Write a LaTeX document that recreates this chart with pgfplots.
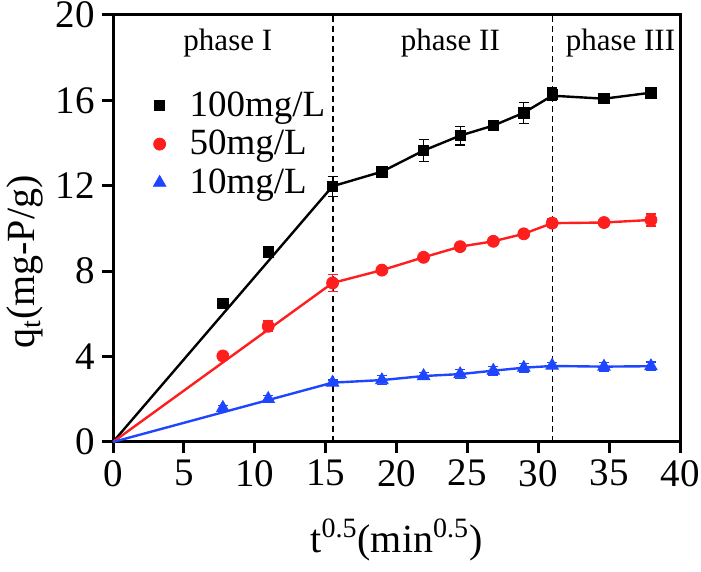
\documentclass[border=0pt]{standalone}
\usepackage{fontspec}
\setmainfont{Liberation Serif}
\usepackage{pgfplots}
\usepackage{pgfplotstable}
\pgfplotsset{compat=1.18}
\definecolor{sred}{HTML}{FF1E1E}
\definecolor{sblue}{HTML}{1E46FF}

% x  q_t  err
\pgfplotstableread{
x y e
7.75 6.50 0.10
10.95 8.90 0.12
15.49 11.98 0.47
18.97 12.66 0.12
21.91 13.65 0.52
24.49 14.35 0.44
26.83 14.82 0.12
28.98 15.42 0.50
30.98 16.28 0.30
34.64 16.08 0.12
37.95 16.36 0.12
}\hundred
\pgfplotstableread{
x y e
7.75 4.03 0.10
10.95 5.42 0.25
15.49 7.45 0.40
18.97 8.05 0.12
21.91 8.65 0.10
24.49 9.15 0.10
26.83 9.40 0.10
28.98 9.75 0.10
30.98 10.25 0.22
34.64 10.28 0.10
37.95 10.40 0.28
}\fifty
\pgfplotstableread{
x y e
7.75 1.60 0.10
10.95 2.02 0.15
15.49 2.78 0.12
18.97 2.90 0.20
21.91 3.09 0.15
24.49 3.18 0.20
26.83 3.34 0.20
28.98 3.48 0.20
30.98 3.58 0.15
34.64 3.53 0.20
37.95 3.55 0.20
}\ten

\begin{document}
\begin{tikzpicture}
\path[use as bounding box] (-56.5pt,-65pt) rectangle (294pt,221pt);
\begin{axis}[
  at={(0,0)}, anchor=south west,
  scale only axis, width=283.5pt, height=213.5pt,
  xmin=0, xmax=40, ymin=0, ymax=20,
  xtick={0,5,...,40}, ytick={0,4,...,20},
  xticklabels={\mbox{0},\mbox{5},\mbox{10},\mbox{15},\mbox{20},\mbox{25},\mbox{30},\mbox{35},\mbox{40}},
  yticklabels={\mbox{0},\mbox{4},\mbox{8},\mbox{12},\mbox{16},\mbox{20}},
  xtick pos=left, ytick pos=left, tick align=outside,
  major tick length=5.5pt,
  axis line style={line width=1.5pt},
  every tick/.style={black, line width=1.5pt},
  tick label style={font=\fontsize{19.5}{19.5}\selectfont},
  clip=false,
  legend style={at={(rel axis cs:0.06,0.84)}, anchor=north west,
    draw=none, fill=none, font=\fontsize{18.5}{20}\selectfont,
    row sep=1.5pt, cells={anchor=west}},
  leg/.style={legend image code/.code={\draw[##1] plot coordinates {(0cm,0cm)}; \path (0.45cm,0cm);}},
  error bars/error bar style={line width=0.6pt},
  error bars/error mark options={rotate=90, mark size=2.5pt, line width=0.6pt},
]
% phase boundaries
\addplot[black, line width=0.9pt, dash pattern=on 3pt off 2pt, forget plot] coordinates {(15.5,0) (15.5,20)};
\addplot[black, line width=0.9pt, dash pattern=on 3pt off 2pt, forget plot] coordinates {(31,0) (31,20)};
% fitted lines
\addplot[black, line width=1.2pt, forget plot] coordinates {(0,0) (15.49,11.98) (18.97,12.66) (21.91,13.65) (24.49,14.35) (26.83,14.82) (28.98,15.42) (30.98,16.22) (34.64,16.08) (37.95,16.36)};
\addplot[sred, line width=1.2pt, forget plot] coordinates {(0,0) (15.49,7.45) (18.97,8.05) (21.91,8.65) (24.49,9.15) (26.83,9.40) (28.98,9.75) (30.98,10.25) (34.64,10.28) (37.95,10.40)};
\addplot[sblue, line width=1.2pt, forget plot] coordinates {(0,0) (15.49,2.78) (18.97,2.90) (21.91,3.09) (24.49,3.18) (26.83,3.34) (28.98,3.48) (30.98,3.56) (34.64,3.53) (37.95,3.55)};
% measured points
\addplot[only marks, black, mark=square*, mark size=2.6pt, leg,
  error bars/.cd, y dir=both, y explicit] table[x=x, y=y, y error=e] {\hundred};
\addlegendentry{100mg/L}
\addplot[only marks, sred, mark=*, mark size=3pt, leg,
  error bars/.cd, y dir=both, y explicit] table[x=x, y=y, y error=e] {\fifty};
\addlegendentry{50mg/L}
\addplot[only marks, sblue, mark=triangle*, mark size=3.6pt, leg,
  error bars/.cd, y dir=both, y explicit] table[x=x, y=y, y error=e] {\ten};
\addlegendentry{10mg/L}
% phase labels
\node[font=\fontsize{15.5}{17}\selectfont] at (axis cs:8.1,18.7) {phase I};
\node[font=\fontsize{15.5}{17}\selectfont] at (axis cs:23.8,18.7) {phase II};
\node[font=\fontsize{15.5}{17}\selectfont] at (axis cs:35.8,18.7) {phase III};
\end{axis}
\node[font=\fontsize{20}{22}\selectfont] at (141.75pt,-49pt) {t\textsuperscript{0.5}(min\textsuperscript{0.5})};
\node[font=\fontsize{20}{22}\selectfont, rotate=90] at (-44pt,90pt) {q\textsubscript{t}(mg-P/g)};
\end{tikzpicture}
\end{document}
